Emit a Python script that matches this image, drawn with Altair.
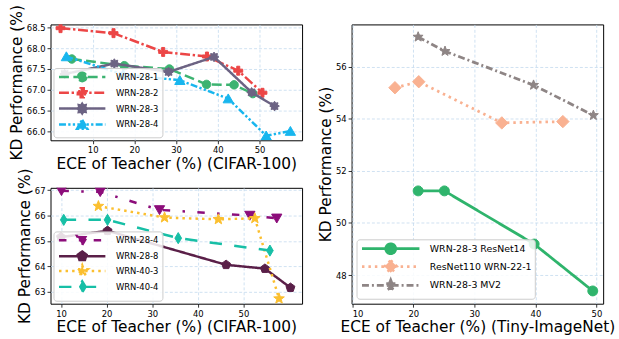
import math
import altair as alt
import pandas as pd

# ---------------- data ----------------
# Panel A (top-left, CIFAR-100)
a_names = ["WRN-28-1", "WRN-28-2", "WRN-28-3", "WRN-28-4"]
a1_x = [5.0, 17.6, 28.4, 37.3, 43.9, 48.4]
a1_y = [67.74, 67.58, 67.50, 67.13, 67.12, 66.91]
a2_x = [2.3, 15.0, 26.9, 37.4, 44.9, 50.7]
a2_y = [68.48, 68.36, 67.91, 67.80, 67.46, 66.93]
a3_x = [3.3, 15.2, 28.2, 39.1, 48.1, 53.6]
a3_y = [67.38, 67.63, 67.43, 67.79, 66.94, 66.61]
a4_x = [3.7, 17.3, 30.9, 42.5, 51.6, 57.4]
a4_y = [67.80, 67.37, 67.23, 66.79, 65.90, 66.01]

# Panel B (bottom-left, CIFAR-100)
b_names = ["WRN-28-4", "WRN-28-8", "WRN-40-3", "WRN-40-4"]
b1_x = [10.1, 18.6, 31.6, 51.4, 57.3]
b1_y = [66.97, 66.93, 66.22, 66.00, 65.89]
b2_x = [10.0, 20.2, 46.2, 54.7, 60.3]
b2_y = [65.15, 65.40, 64.06, 63.91, 63.16]
b3_x = [18.2, 32.7, 44.5, 52.5, 57.8]
b3_y = [66.37, 65.92, 65.85, 65.89, 62.73]
b4_x = [10.6, 20.2, 35.7, 55.8]
b4_y = [65.83, 65.83, 65.11, 64.62]

# Panel C (right, Tiny-ImageNet)
c_names = ["WRN-28-3 ResNet14", "ResNet110 WRN-22-1", "WRN-28-3 MV2"]
c1_x = [20.8, 25.1, 39.8, 49.4]
c1_y = [51.23, 51.23, 49.19, 47.39]
c2_x = [17.0, 20.9, 34.5, 44.5]
c2_y = [55.19, 55.42, 53.84, 53.89]
c3_x = [20.8, 25.2, 39.7, 49.5]
c3_y = [57.14, 56.59, 55.29, 54.13]

x_ticks = [10, 20, 30, 40, 50]
a_yticks = [66.0, 66.5, 67.0, 67.5, 68.0, 68.5]
b_yticks = [63, 64, 65, 66, 67]
c_yticks = [48, 50, 52, 54, 56]

XT_CIFAR = "ECE of Teacher (%) (CIFAR-100)"
XT_TINY = "ECE of Teacher (%) (Tiny-ImageNet)"
YT = "KD Performance (%)"

FONT = "DejaVu Sans"


# ---------------- marker paths (unit box) ----------------
def fmt(v):
    return f"{v:.3f}"


def poly(pts):
    return "M" + "L".join(f"{fmt(x)},{fmt(y)}" for x, y in pts) + "Z"


def star(n, ro, ri, rot=-90):
    pts = []
    for k in range(2 * n):
        r = ro if k % 2 == 0 else ri
        a = math.radians(rot + k * 180.0 / n)
        pts.append((r * math.cos(a), r * math.sin(a)))
    return poly(pts)


def ngon(n, r, rot=-90):
    pts = []
    for k in range(n):
        a = math.radians(rot + k * 360.0 / n)
        pts.append((r * math.cos(a), r * math.sin(a)))
    return poly(pts)


def circ(r):
    return ngon(20, r, rot=0)


def plus(h, w):
    return poly([(-w, -h), (w, -h), (w, -w), (h, -w), (h, w), (w, w), (w, h),
                 (-w, h), (-w, w), (-h, w), (-h, -w), (-w, -w)])


M_CIRCLE_S = circ(0.95)
M_PLUS = plus(1.0, 0.34)
M_BLOB = star(8, 1.08, 0.72, rot=-90)
M_TRI_UP = poly([(0, -1.05), (1.15, 0.95), (-1.15, 0.95)])
M_TRI_DN = poly([(0, 1.05), (1.15, -0.95), (-1.15, -0.95)])
M_PENT = ngon(5, 1.05)
M_STAR5 = star(5, 1.25, 0.52)
M_THIN_D = poly([(0, -1.25), (0.75, 0), (0, 1.25), (-0.75, 0)])
M_CIRCLE_L = circ(1.0)
M_DIAM = poly([(0, -1.25), (1.25, 0), (0, 1.25), (-1.25, 0)])
M_STAR_G = star(5, 1.05, 0.45)


def legend_path(marker, half):
    return f"M{-half},0H{half}" + marker


def frame(names, xs, ys):
    rows = []
    for n, xx, yy in zip(names, xs, ys):
        for a, b in zip(xx, yy):
            rows.append({"series": n, "x": a, "y": b})
    return pd.DataFrame(rows)


def panel(names, xs, ys, colors, dashes, markers, S, half, xdom, ydom,
          yticks, yfmt, xtitle, w, h, lab_size, lw, leg_extra):
    df = frame(names, xs, ys)
    xenc = alt.X("x:Q", scale=alt.Scale(domain=xdom, nice=False, zero=False),
                 axis=alt.Axis(values=x_ticks, title=xtitle, format="d",
                               labelOverlap=False, tickCount=20))
    yenc = alt.Y("y:Q", scale=alt.Scale(domain=ydom, nice=False, zero=False),
                 axis=alt.Axis(values=yticks, title=YT, format=yfmt,
                               labelOverlap=False, tickCount=20))
    layers = []
    for n, c, d, m in zip(names, colors, dashes, markers):
        ln = alt.Chart(df).transform_filter(alt.datum.series == n).mark_line(
            strokeWidth=lw, clip=True, color=c, strokeDash=d).encode(x=xenc, y=yenc)
        pts = alt.Chart(df).transform_filter(alt.datum.series == n).mark_point(
            shape=m, filled=True, size=S * S, color=c, stroke=c, strokeWidth=1,
            opacity=1, clip=True).encode(x="x:Q", y="y:Q")
        layers += [ln, pts]
    leg = alt.Legend(title=None, orient="bottom-left", labelFont=FONT,
                     labelFontSize=lab_size, labelColor="#000",
                     fillColor="rgba(255,255,255,0.85)", strokeColor="#cccccc",
                     cornerRadius=3, symbolSize=S * S, symbolStrokeWidth=lw,
                     **leg_extra)
    lpaths = [legend_path(m, half) for m in markers]
    legend_layer = alt.Chart(df).transform_filter("false").mark_point(
        filled=True, opacity=1, strokeWidth=lw, size=S * S).encode(
        fill=alt.Fill("series:N", scale=alt.Scale(domain=names, range=colors), legend=leg),
        stroke=alt.Stroke("series:N", scale=alt.Scale(domain=names, range=colors), legend=leg),
        shape=alt.Shape("series:N", scale=alt.Scale(domain=names, range=lpaths), legend=leg),
        strokeDash=alt.StrokeDash("series:N", scale=alt.Scale(domain=names, range=dashes), legend=leg),
    )
    layers.append(legend_layer)
    return alt.layer(*layers).properties(width=w, height=h)


top = panel(
    a_names, [a1_x, a2_x, a3_x, a4_x], [a1_y, a2_y, a3_y, a4_y],
    ["#3cb371", "#ec4646", "#6c6383", "#18b6ee"],
    [[10, 4.5], [10, 2.7, 2.4, 2.7], [1, 0], [7, 2.3, 2.3, 2.3, 2.3, 2.3]],
    [M_CIRCLE_S, M_PLUS, M_BLOB, M_TRI_UP], 9, 5.2,
    [-0.1, 60.2], [65.79, 68.57], a_yticks, ".1f", XT_CIFAR, 254, 117, 8.5, 2.5,
    dict(offset=3, padding=3, rowPadding=-10.5, symbolOffset=20, labelOffset=28),
)

bottom = panel(
    b_names, [b1_x, b2_x, b3_x, b4_x], [b1_y, b2_y, b3_y, b4_y],
    ["#8c0d7a", "#5a1f48", "#fbbf2f", "#17bfa6"],
    [[7.5, 12.5, 2.5, 12.5], [1, 0], [2.5, 4.1], [12.5, 12.5]],
    [M_TRI_DN, M_PENT, M_STAR5, M_THIN_D], 9, 5.2,
    [7.7, 62.85], [62.53, 67.09], b_yticks, "d", XT_CIFAR, 254, 117, 8.5, 2.5,
    dict(offset=3, padding=3, rowPadding=-10.5, symbolOffset=20, labelOffset=28),
)

right = panel(
    c_names, [c1_x, c2_x, c3_x], [c1_y, c2_y, c3_y],
    ["#2fb46c", "#f9b191", "#8e8585"],
    [[1, 0], [2.5, 4], [7, 3, 2, 3]],
    [M_CIRCLE_L, M_DIAM, M_STAR_G], 10, 5.8,
    [9.9, 51.1], [46.9, 57.62], c_yticks, "d", XT_TINY, 254, 282, 9.5, 2.8,
    dict(offset=5, padding=3, rowPadding=-12, symbolOffset=25, labelOffset=33),
)

ind = dict(x="independent", y="independent", fill="independent",
           stroke="independent", shape="independent", strokeDash="independent")
indl = dict(fill="independent", stroke="independent",
            shape="independent", strokeDash="independent")

left = alt.VConcatChart(vconcat=[top, bottom], spacing=48, bounds="flush").resolve_scale(**ind).resolve_legend(**indl)
chart = alt.HConcatChart(hconcat=[left, right], spacing=15).resolve_scale(**ind).resolve_legend(**indl)

chart = chart.properties(
    padding={"left": 9, "top": 2, "right": 3, "bottom": 3},
    background="white",
).configure_view(stroke="black", strokeWidth=1).configure_axis(
    labelFont=FONT, labelFontSize=8.5, labelColor="#000", labelOverlap=False,
    titleFont=FONT, titleFontSize=15.5, titleFontWeight="normal", titleColor="#000",
    tickColor="#000", tickSize=3.5, tickWidth=0.8, domain=False,
    grid=True, gridColor="#c4daee", gridDash=[3, 2], gridWidth=0.8,
    labelPadding=2, titlePadding=2,
)

chart.save("out.html", embed_options={"renderer": "svg", "actions": False})
